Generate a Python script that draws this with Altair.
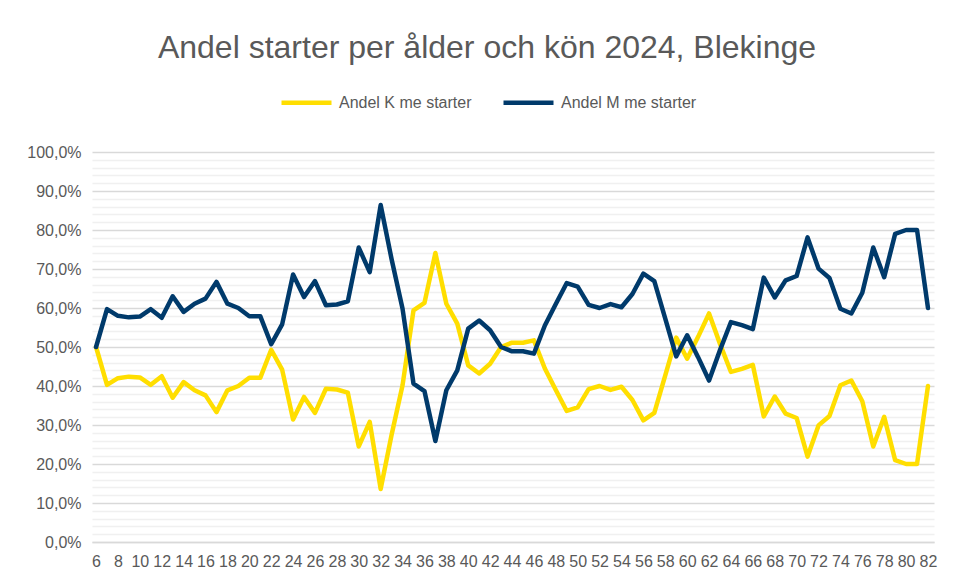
import altair as alt
import pandas as pd

ages = list(range(6, 83))
andel_m = [50.0, 59.7, 58.0, 57.6, 57.8, 59.7, 57.5, 63.0, 59.0, 61.1,
           62.4, 66.7, 61.1, 60.0, 57.9, 57.9, 50.7, 55.8, 68.6, 62.8,
           66.9, 60.7, 60.9, 61.7, 75.5, 69.2, 86.4, 72.5, 59.8, 40.6,
           38.7, 25.9, 38.9, 44.0, 54.7, 56.8, 54.3, 50.0, 48.9, 48.9,
           48.3, 55.5, 61.0, 66.4, 65.5, 60.8, 60.0, 61.0, 60.2, 63.6,
           68.8, 66.9, 57.3, 47.6, 53.0, 47.4, 41.4, 49.2, 56.4, 55.6,
           54.6, 67.8, 62.7, 67.1, 68.2, 78.1, 70.1, 67.7, 59.8, 58.6,
           63.9, 75.5, 67.9, 79.0, 80.0, 80.0, 60.0]
andel_k = [50.0, 40.3, 42.0, 42.4, 42.2, 40.3, 42.5, 37.0, 41.0, 38.9,
           37.6, 33.3, 38.9, 40.0, 42.1, 42.1, 49.3, 44.2, 31.4, 37.2,
           33.1, 39.3, 39.1, 38.3, 24.5, 30.8, 13.6, 27.5, 40.2, 59.4,
           61.3, 74.1, 61.1, 56.0, 45.3, 43.2, 45.7, 50.0, 51.1, 51.1,
           51.7, 44.5, 39.0, 33.6, 34.5, 39.2, 40.0, 39.0, 39.8, 36.4,
           31.2, 33.1, 42.7, 52.4, 47.0, 52.6, 58.6, 50.8, 43.6, 44.4,
           45.4, 32.2, 37.3, 32.9, 31.8, 21.9, 29.9, 32.3, 40.2, 41.4,
           36.1, 24.5, 32.1, 21.0, 20.0, 20.0, 40.0]
series_names = ["Andel K me starter", "Andel M me starter"]
series_colors = ["#FFDE00", "#003A6B"]
x_ticks = list(range(6, 83, 2))
y_ticks = list(range(0, 101, 2))

df = pd.concat([
    pd.DataFrame({"age": ages, "value": andel_k, "serie": series_names[0]}),
    pd.DataFrame({"age": ages, "value": andel_m, "serie": series_names[1]}),
])

label_color = "#595959"
font = "Liberation Sans"

chart = alt.Chart(df).mark_line(
    strokeWidth=4.5, strokeJoin="round", strokeCap="round"
).encode(
    x=alt.X("age:Q",
            scale=alt.Scale(domain=[5.63, 82.55], nice=False, zero=False),
            axis=alt.Axis(values=x_ticks, title=None, grid=False, ticks=False,
                          domainColor="#D9D9D9", domainWidth=1.5,
                          labelFontSize=16, labelColor=label_color, labelFont=font,
                          labelPadding=11, format="d", labelFlush=False,
                          labelOverlap=False)),
    y=alt.Y("value:Q",
            scale=alt.Scale(domain=[0, 100], nice=False),
            axis=alt.Axis(values=y_ticks, title=None, domain=False, ticks=False,
                          grid=True, gridWidth=1.5,
                          gridColor={"condition": {"test": "datum.value % 10 === 0", "value": "#D9D9D9"},
                                     "value": "#F0F0F0"},
                          labelExpr="datum.value % 10 === 0 ? replace(format(datum.value, '.1f'), '.', ',') + '%' : ''",
                          labelFontSize=16, labelColor=label_color, labelFont=font,
                          labelPadding=11, labelOverlap=False)),
    color=alt.Color("serie:N",
                    scale=alt.Scale(domain=series_names, range=series_colors),
                    legend=alt.Legend(orient="none", legendX=187, legendY=-77,
                                      direction="horizontal", title=None,
                                      symbolType="stroke", symbolSize=2500,
                                      symbolStrokeWidth=4.5,
                                      labelFontSize=16, labelColor=label_color,
                                      labelFont=font, columnPadding=22,
                                      labelOffset=5, padding=0)),
).properties(
    width=842,
    height=390,
    title=alt.TitleParams(text="Andel starter per ålder och kön 2024, Blekinge",
                          fontSize=32, font=font, fontWeight="normal",
                          color=label_color, anchor="middle", offset=10, dx=-26),
    autosize=alt.AutoSizeParams(type="none"),
    padding={"left": 84, "top": 144, "right": 13, "bottom": 31},
).configure_view(strokeWidth=0)

chart.save("out.html", embed_options={"renderer": "svg", "actions": False})
